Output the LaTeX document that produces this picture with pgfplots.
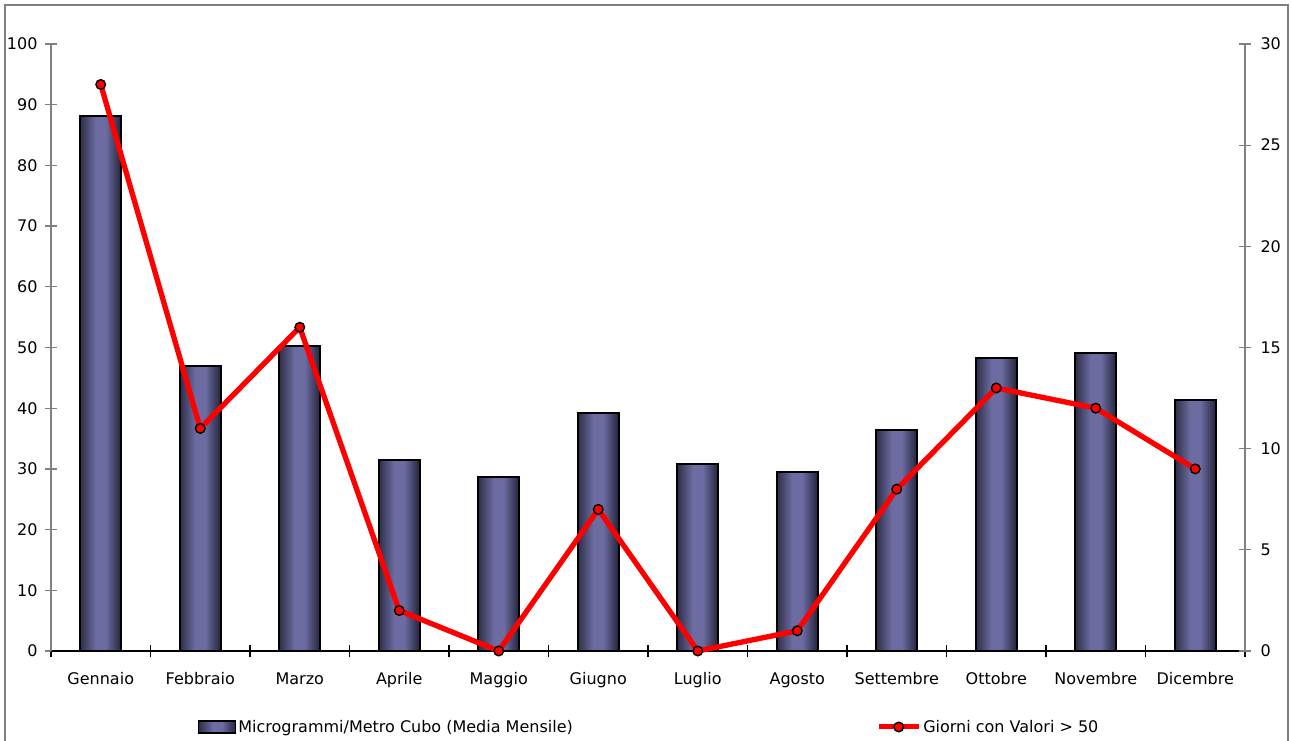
\documentclass[border=0pt]{standalone}
\usepackage{pgfplots}
\pgfplotsset{compat=1.18}
\usepackage{fontspec}
\setmainfont{DejaVu Sans}
\newcommand\chartfont{\fontsize{16}{19}\selectfont}
\definecolor{bdarkL}{HTML}{2E2E48}
\definecolor{blight}{HTML}{6C6CA2}
\definecolor{bdarkR}{HTML}{23233A}
\definecolor{axgray}{HTML}{808080}
\pgfdeclarehorizontalshading{barshade}{100bp}{color(0bp)=(bdarkL); color(25bp)=(bdarkL); color(44bp)=(blight); color(56bp)=(blight); color(75bp)=(bdarkR); color(100bp)=(bdarkR)}
\begin{document}
\begin{tikzpicture}
\useasboundingbox (0pt,0pt) rectangle (1291pt,740pt);
\fill[white] (0pt,0pt) rectangle (1291pt,740pt);
\draw[axgray, line width=2pt] (4.5pt,735pt) rectangle (1288pt,-20pt);
\pgfplotsset{
  common/.style={
    at={(51pt,89pt)}, anchor=south west, scale only axis,
    width=1194pt, height=607pt,
    xmin=-0.5, xmax=11.5, ymin=0,
    /pgf/number format/assume math mode=true,
    tick label style={font=\chartfont},
    tick align=center, major tick length=12pt, minor tick length=12pt,
    legend style={draw=none, fill=none, font=\chartfont, anchor=west, inner sep=0pt},
  },
  onebar/.style={ybar, bar width=41pt, bar shift=0pt, shading=barshade, draw=black, line width=1.8pt},
}
\begin{axis}[common, ymax=100,
  axis y line*=left, axis x line*=bottom,
  y axis line style={axgray, line width=1.5pt},
  x axis line style={black, line width=1.3pt},
  ytick={0,10,...,100},
  y tick style={axgray, line width=1.3pt},
  xtick={0,...,11},
  xticklabels={Gennaio,Febbraio,Marzo,Aprile,Maggio,Giugno,Luglio,Agosto,Settembre,Ottobre,Novembre,Dicembre},
  major x tick style={draw=none},
  minor xtick={-0.5,0.5,...,11.5},
  minor x tick style={black, line width=1.1pt},
  xticklabel style={yshift=-12pt},
  yticklabel style={xshift=-4pt},
  legend style={at={(axis description cs:0.1231,-0.1252)}},
  legend image code/.code={\draw[shading=barshade, draw=black, line width=1.2pt] (0pt,-6pt) rectangle (37pt,6pt);},
]
\addplot[onebar] coordinates {(0,88.1)};
\addlegendentry{Microgrammi/Metro Cubo (Media Mensile)}
\addplot[onebar, forget plot] coordinates {(1,47.0)};
\addplot[onebar, forget plot] coordinates {(2,50.2)};
\addplot[onebar, forget plot] coordinates {(3,31.5)};
\addplot[onebar, forget plot] coordinates {(4,28.7)};
\addplot[onebar, forget plot] coordinates {(5,39.2)};
\addplot[onebar, forget plot] coordinates {(6,30.8)};
\addplot[onebar, forget plot] coordinates {(7,29.5)};
\addplot[onebar, forget plot] coordinates {(8,36.4)};
\addplot[onebar, forget plot] coordinates {(9,48.3)};
\addplot[onebar, forget plot] coordinates {(10,49.1)};
\addplot[onebar, forget plot] coordinates {(11,41.4)};
\end{axis}
\begin{axis}[common, ymax=30, clip=false,
  axis y line*=right, axis x line=none,
  y axis line style={axgray, line width=1.5pt},
  ytick={0,5,...,30},
  y tick style={axgray, line width=1.3pt},
  yticklabel style={xshift=6pt},
  legend style={at={(axis description cs:0.6910,-0.1252)}},
  legend image code/.code={\draw[red, line width=5pt] (0pt,0pt) -- (40pt,0pt);
     \draw[fill=red, draw=black, line width=1.4pt] (20pt,0pt) circle (4.8pt);},
]
\addplot[red, line width=5.3pt, mark=*, mark size=4.8pt, mark options={fill=red, draw=black, line width=1.4pt}] coordinates {
(0,28) (1,11) (2,16) (3,2) (4,0) (5,7) (6,0) (7,1) (8,8) (9,13) (10,12) (11,9)};
\addlegendentry{Giorni con Valori > 50}
\end{axis}
\end{tikzpicture}
\end{document}
